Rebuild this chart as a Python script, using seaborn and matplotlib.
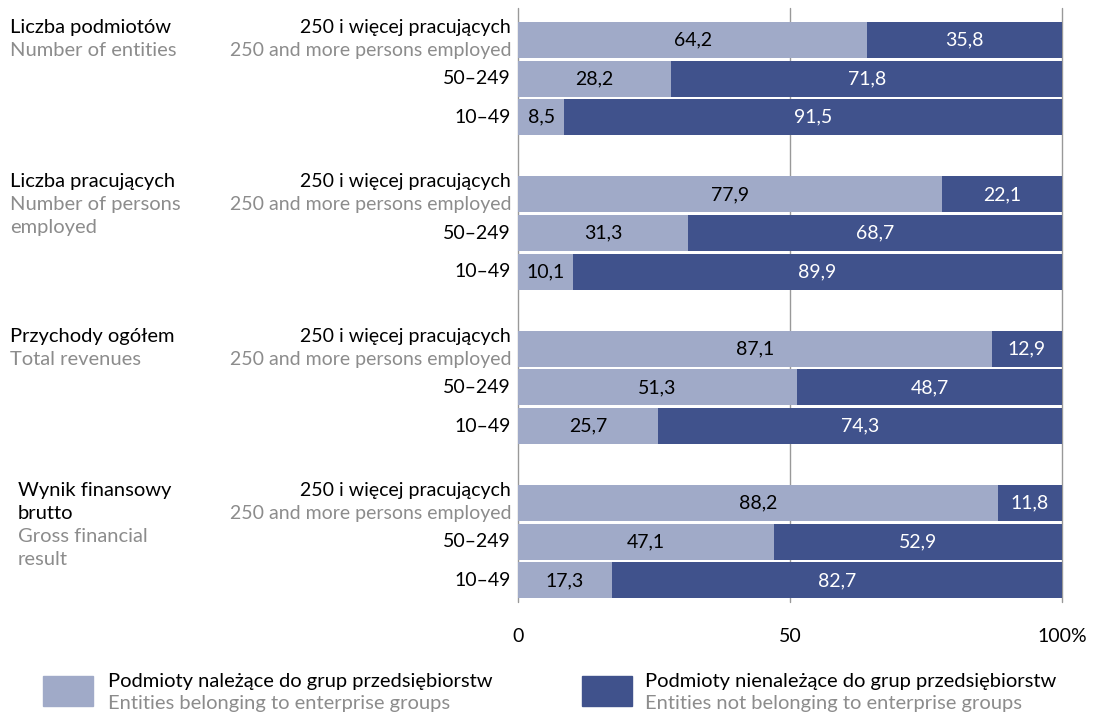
import numpy as np
import pandas as pd
import matplotlib
matplotlib.use('Agg')
import matplotlib.pyplot as plt
import matplotlib.transforms as mtransforms
import seaborn as sns

# ── data ───────────────────────────────────────────────────────────
groups_pl = ['Liczba podmiotów', 'Liczba pracujących',
             'Przychody ogółem', 'Wynik finansowy brutto']
groups_en = ['Number of entities', 'Number of persons employed',
             'Total revenues', 'Gross financial result']
group_lines = [
    (['Liczba podmiotów'], ['Number of entities']),
    (['Liczba pracujących'], ['Number of persons', 'employed']),
    (['Przychody ogółem'], ['Total revenues']),
    (['Wynik finansowy', 'brutto'], ['Gross financial', 'result']),
]
sizes_pl = ['250 i więcej pracujących', '50–249', '10–49']
sizes_en = ['250 and more persons employed', '', '']

belonging = [[64.2, 28.2, 8.5],
             [77.9, 31.3, 10.1],
             [87.1, 51.3, 25.7],
             [88.2, 47.1, 17.3]]
not_belonging = [[35.8, 71.8, 91.5],
                 [22.1, 68.7, 89.9],
                 [12.9, 48.7, 74.3],
                 [11.8, 52.9, 82.7]]

legend_pl = ['Podmioty należące do grup przedsiębiorstw',
             'Podmioty nienależące do grup przedsiębiorstw']
legend_en = ['Entities belonging to enterprise groups',
             'Entities not belonging to enterprise groups']

LIGHT = '#a0aac8'
DARK = '#40528c'
GREY_TXT = '#8c8c8c'
FS = 14

# ── long table, one row per bar; a blank row between groups ──────
rows = []
for g in range(len(groups_pl)):
    for s in range(len(sizes_pl)):
        rows.append(dict(pos=g * 4 + s, group=g, size=s,
                         bel=belonging[g][s],
                         notbel=not_belonging[g][s]))
df = pd.DataFrame(rows)
df['total'] = df['bel'] + df['notbel']

# ── plot ───────────────────────────────────────────────────────────
sns.set_theme(style='white')
plt.rcParams['font.family'] = ['Lato', 'DejaVu Sans']

fig = plt.figure(figsize=(10.98, 7.12), dpi=100)
ax = fig.add_axes([518 / 1098, 1 - 602 / 712, 544 / 1098, 594 / 712])

sns.barplot(data=df, x='total', y='pos', orient='h', native_scale=True,
            color=DARK, saturation=1, width=0.93, linewidth=0,
            ax=ax, zorder=2)
sns.barplot(data=df, x='bel', y='pos', orient='h', native_scale=True,
            color=LIGHT, saturation=1, width=0.93, linewidth=0,
            ax=ax, zorder=3)

for x in [0, 50, 100]:
    ax.axvline(x, color='#999999', linewidth=1, zorder=1, clip_on=False)

ax.set_xlim(0, 100)
ax.set_ylim(14.56, -0.83)
sns.despine(ax=ax, left=True, bottom=True)
ax.set_yticks([])
ax.set_xticks([0, 50, 100])
ax.set_xticklabels(['0', '50', '100%'])
ax.tick_params(axis='x', length=0, pad=19, labelsize=FS, colors='black')
ax.set_xlabel('')
ax.set_ylabel('')

# value labels inside segments
for _, r in df.iterrows():
    ax.text(r['bel'] / 2, r['pos'], f"{r['bel']:.1f}".replace('.', ','),
            ha='center', va='center', fontsize=FS, color='black', zorder=4)
    ax.text(r['bel'] + r['notbel'] / 2, r['pos'],
            f"{r['notbel']:.1f}".replace('.', ','),
            ha='center', va='center', fontsize=FS, color='white', zorder=4)

# category labels left of the axis edge
lab_tr = mtransforms.blended_transform_factory(ax.transAxes, ax.transData) + \
    mtransforms.ScaledTranslation(-7 / 100, 0, fig.dpi_scale_trans)
for _, r in df.iterrows():
    s = int(r['size'])
    if sizes_en[s]:
        ax.text(0, r['pos'] - 0.33, sizes_pl[s], transform=lab_tr,
                ha='right', va='center', fontsize=FS, color='black')
        ax.text(0, r['pos'] + 0.27, sizes_en[s], transform=lab_tr,
                ha='right', va='center', fontsize=FS, color=GREY_TXT)
    else:
        ax.text(0, r['pos'], sizes_pl[s], transform=lab_tr,
                ha='right', va='center', fontsize=FS, color='black')

# group labels at the far left
grp_tr = mtransforms.blended_transform_factory(fig.transFigure, ax.transData)
for g, (pl, en) in enumerate(group_lines):
    x0 = 18 / 1098 if g == 3 else 10 / 1098
    y = g * 4 - 0.33
    for line in pl:
        ax.text(x0, y, line, transform=grp_tr, ha='left', va='center',
                fontsize=14.5, color='black')
        y += 0.6
    for line in en:
        ax.text(x0, y, line, transform=grp_tr, ha='left', va='center',
                fontsize=14.5, color=GREY_TXT)
        y += 0.6

# legend at the bottom
for i, (col, x_sq, x_tx) in enumerate([(LIGHT, 43, 108), (DARK, 582, 645)]):
    fig.patches.append(plt.Rectangle((x_sq / 1098, 1 - 706 / 712),
                                     50 / 1098, 30 / 712, color=col,
                                     transform=fig.transFigure))
    fig.text(x_tx / 1098, 1 - 681 / 712, legend_pl[i], ha='left',
             va='center', fontsize=14.5, color='black')
    fig.text(x_tx / 1098, 1 - 704 / 712, legend_en[i], ha='left',
             va='center', fontsize=14.5, color=GREY_TXT)

fig.savefig('out.png', dpi=100)
